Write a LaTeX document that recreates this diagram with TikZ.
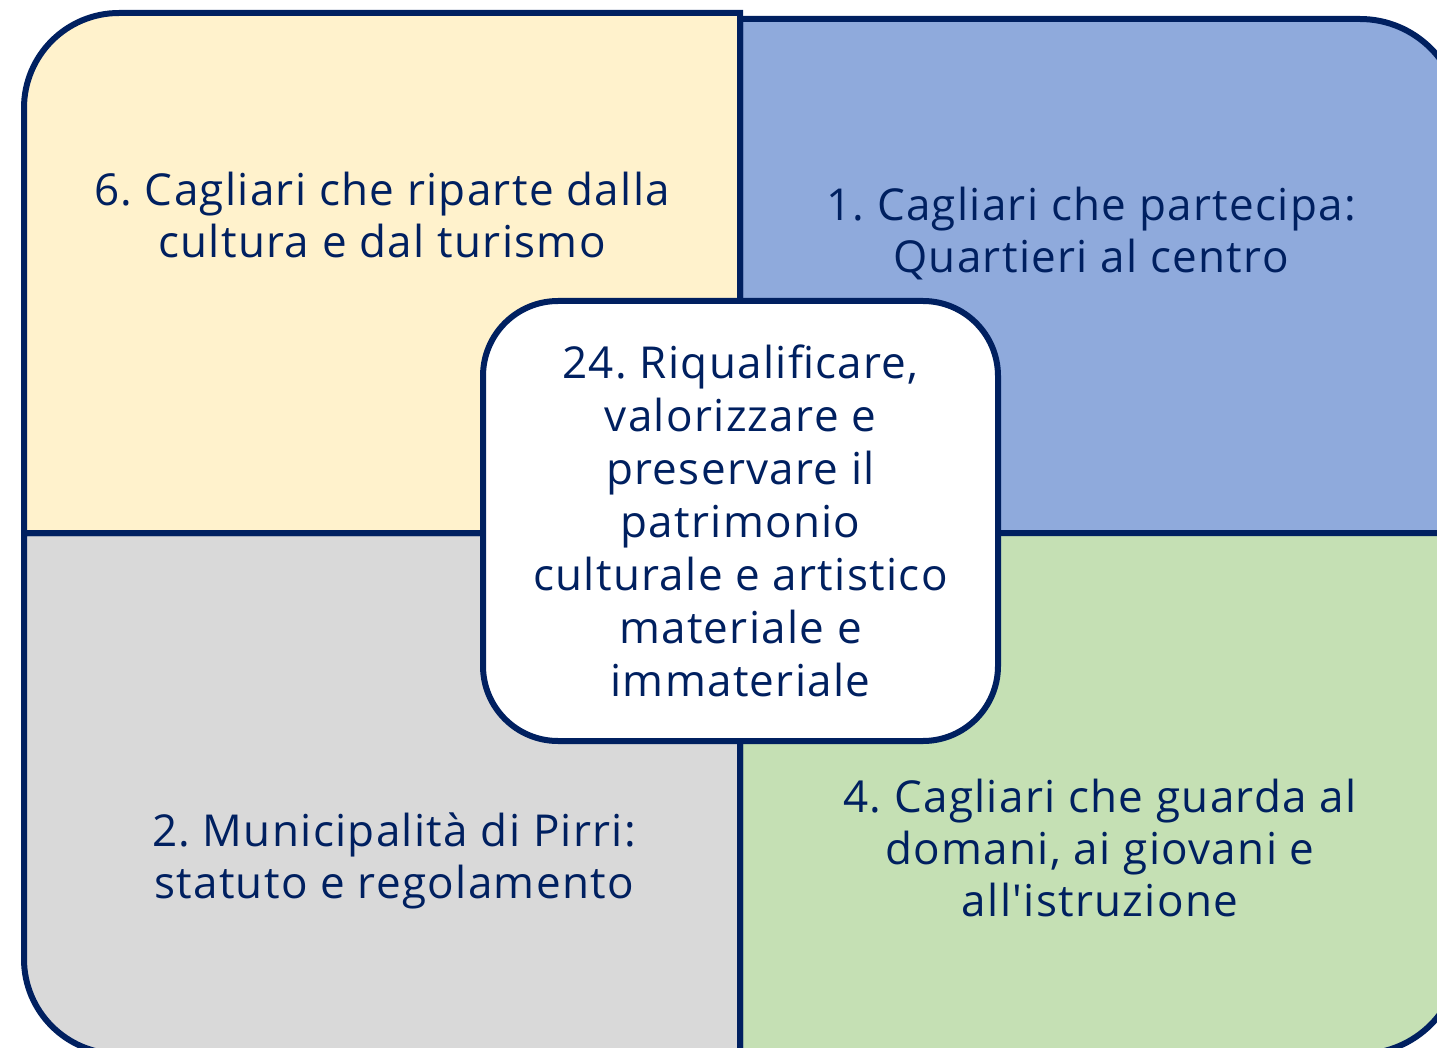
\documentclass[tikz,border=0pt]{standalone}
\usepackage{fontspec}
\setmainfont{Open Sans}[Ligatures=TeXOff, LetterSpace=3]
\frenchspacing
\definecolor{navy}{HTML}{002060}
\definecolor{qyellow}{HTML}{FFF2CC}
\definecolor{qblue}{HTML}{8FAADC}
\definecolor{qgray}{HTML}{D9D9D9}
\definecolor{qgreen}{HTML}{C5E0B4}
\tikzset{
  quad/.style={draw=navy, line width=6pt, line join=miter},
  lbl/.style={text=navy, align=center, inner sep=0pt, font=\fontsize{44}{52}\selectfont},
  centerbox/.style={draw=navy, fill=white, line width=6pt, rounded corners=75pt,
    minimum width=515pt, minimum height=440pt, inner sep=0pt, text=navy, align=center,
    font=\fontsize{44}{53}\selectfont}
}
\begin{document}
\begin{tikzpicture}[x=1pt,y=-1pt]
\useasboundingbox (0,0) rectangle (1437,1048);
\clip (0,0) rectangle (1437,1048);
% quadrants
\path[quad, fill=qblue] (740,533) -- (740,19) -- (1360,19) .. controls (1415.2,19) and (1460,63.8) .. (1460,119) -- (1460,533) -- cycle;
\path[quad, fill=qgreen] (740,533) -- (1460,533) -- (1460,954) .. controls (1460,1009.2) and (1415.2,1054) .. (1360,1054) -- (740,1054) -- cycle;
\path[quad, fill=qgray] (740,533) -- (24,533) -- (24,959) .. controls (24,1011.5) and (66.5,1054) .. (119,1054) -- (740,1054) -- cycle;
\path[quad, fill=qyellow] (740,533) -- (24,533) -- (24,108) .. controls (24,55.5) and (66.5,13) .. (119,13) -- (740,13) -- cycle;
% labels
\node[lbl] (q6) at (382,215) {6. Cagliari che riparte dalla\\cultura e dal turismo};
\node[lbl] (q1) at (1091,234) {1. Cagliari che partecipa:\\Quartieri al centro};
\node[lbl] (q2) at (394,861) {2. Municipalità di Pirri:\\statuto e regolamento};
\node[lbl] (q4) at (1100,848) {4. Cagliari che guarda al\\domani, ai giovani e\\all'istruzione};
% center
\node[centerbox] (c24) at (740.5,521) {24. Riqualificare,\\valorizzare e\\preservare il\\patrimonio\\culturale e artistico\\materiale e\\immateriale};
\end{tikzpicture}
\end{document}
